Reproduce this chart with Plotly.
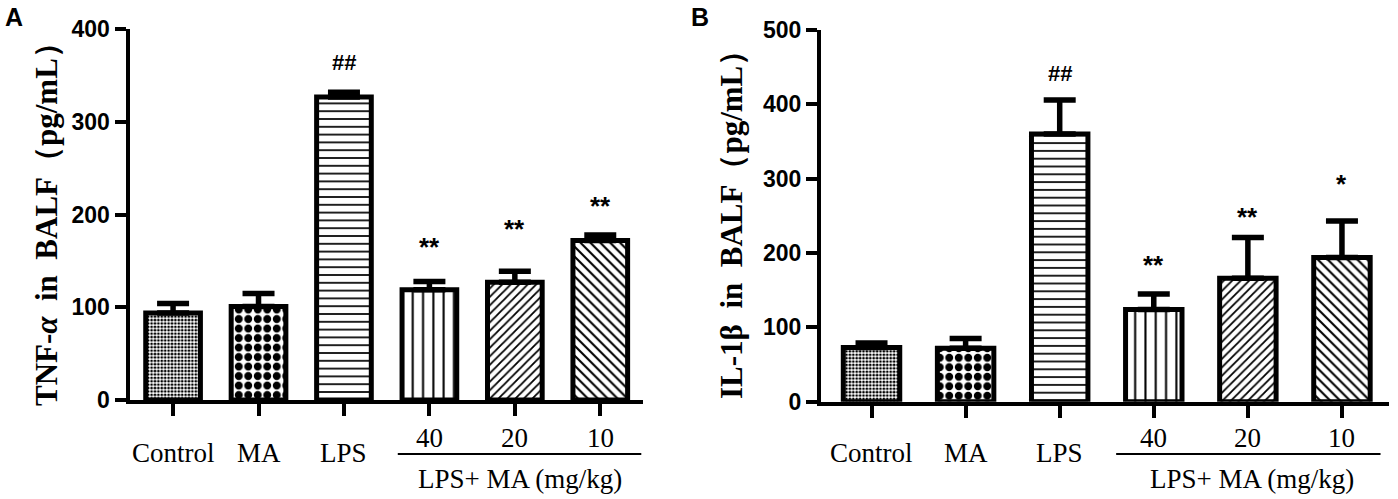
import plotly.graph_objects as go

# ---------------- data ----------------
categories = ["Control", "MA", "LPS", "40", "20", "10"]
group_label = "LPS+ MA (mg/kg)"

tnf_mean = [94, 101, 327, 119, 127, 172]
tnf_sem = [10, 14, 5, 9, 12, 6]
tnf_sig = ["", "", "##", "**", "**", "**"]
tnf_sig_y = [None, None, 364, 165, 185, 209]

il1b_mean = [73, 72, 360, 124, 166, 194]
il1b_sem = [6, 13, 46, 21, 55, 49]
il1b_sig = ["", "", "##", "**", "**", "*"]
il1b_sig_y = [None, None, 442, 184, 249, 293]

tnf_ticks = [0, 100, 200, 300, 400]
il1b_ticks = [0, 100, 200, 300, 400, 500]

W, H = 1398, 499
patterns = [
    dict(shape=".", size=3.4, solidity=0.5),
    dict(shape=".", size=9.5, solidity=0.55),
    dict(shape="-", size=7.8, solidity=0.22),
    dict(shape="|", size=10.3, solidity=0.2),
    dict(shape="/", size=6, solidity=0.3),
    dict(shape="\\", size=7, solidity=0.3),
]

fig = go.Figure()

def add_panel(fig, means, sems, xa, ya, bw):
    xs = list(range(len(categories)))
    fig.add_trace(go.Bar(
        x=xs, y=means, width=bw, xaxis=xa, yaxis=ya,
        marker=dict(
            color="white",
            line=dict(color="black", width=5),
            pattern=dict(
                shape=[p["shape"] for p in patterns],
                size=[p["size"] for p in patterns],
                solidity=[p["solidity"] for p in patterns],
                fgcolor="black", bgcolor="white", fillmode="replace",
            ),
        ),
        error_y=dict(type="data", symmetric=False, array=sems,
                     arrayminus=[0] * len(sems), color="black",
                     thickness=5.5, width=16),
        showlegend=False, hoverinfo="skip",
    ))

add_panel(fig, tnf_mean, tnf_sem, "x", "y", 0.64)
add_panel(fig, il1b_mean, il1b_sem, "x2", "y2", 0.6)

axis_common = dict(showline=True, linecolor="black", linewidth=4,
                   ticks="outside", tickcolor="black", tickwidth=3.5,
                   showgrid=False, zeroline=False, automargin=False)
tick_font = dict(family="Liberation Sans", size=23, color="black", weight="bold")

fig.update_layout(
    width=W, height=H,
    margin=dict(l=0, r=0, t=0, b=0, autoexpand=False),
    paper_bgcolor="white", plot_bgcolor="white",
    xaxis=dict(domain=[129.5 / W, 643 / W], range=[-0.51, 5.5], anchor="y",
               tickvals=list(range(6)), showticklabels=False, ticklen=12,
               **axis_common),
    yaxis=dict(domain=[99 / H, 469.7 / H], range=[0, 400], anchor="x",
               tickvals=tnf_ticks, ticklen=11, tickfont=tick_font,
               **axis_common),
    xaxis2=dict(domain=[821 / W, 1389 / W], range=[-0.537, 5.5], anchor="y2",
                tickvals=list(range(6)), showticklabels=False, ticklen=12,
                **axis_common),
    yaxis2=dict(domain=[97.3 / H, 469 / H], range=[0, 500], anchor="x2",
                tickvals=il1b_ticks, ticklen=11, tickfont=tick_font,
                **axis_common),
)

serif = dict(family="Liberation Serif", size=27, color="black")
ann = []
shapes = []

def panel_text(xref, sig, sig_y, underline, grp_x):
    for i, c in enumerate(categories):
        is_dose = i >= 3
        ann.append(dict(x=i, xref=xref, y=(H - 438) / H if is_dose else (H - 453) / H,
                        yref="paper", text=c, showarrow=False, font=serif,
                        xanchor="center", yanchor="middle"))
        if sig[i]:
            if sig[i].startswith("#"):
                f = dict(family="Liberation Sans", size=22, color="black", weight="bold")
            else:
                f = dict(family="Liberation Sans", size=26, color="black", weight="bold")
            ann.append(dict(x=i, xref=xref, y=sig_y[i], yref=xref.replace("x", "y"),
                            text=sig[i], showarrow=False, font=f,
                            xanchor="center", yanchor="middle"))
    shapes.append(dict(type="line", xref=xref, yref="paper",
                       x0=underline[0], x1=underline[1],
                       y0=(H - 454) / H, y1=(H - 454) / H,
                       line=dict(color="black", width=2)))
    ann.append(dict(x=grp_x, xref=xref, y=(H - 479) / H, yref="paper",
                    text=group_label, showarrow=False, font=serif,
                    xanchor="center", yanchor="middle"))

panel_text("x", tnf_sig, tnf_sig_y, (2.63, 5.48), 4.06)
panel_text("x2", il1b_sig, il1b_sig_y, (2.6, 5.41), 4.04)

title_font = dict(family="Liberation Serif", size=31, color="black", weight="bold")
ann.append(dict(x=46 / W, y=(H - 217) / H, xref="paper", yref="paper",
                text="TNF-<i>α</i>  in  BALF（pg/mL）", textangle=-90, showarrow=False,
                font=title_font, xanchor="center", yanchor="middle"))
ann.append(dict(x=731 / W, y=(H - 217) / H, xref="paper", yref="paper",
                text="IL-1β  in  BALF（pg/mL）", textangle=-90, showarrow=False,
                font=title_font, xanchor="center", yanchor="middle"))

panel_font = dict(family="Liberation Sans", size=25, color="black", weight="bold")
ann.append(dict(x=14 / W, y=(H - 17) / H, xref="paper", yref="paper", text="A",
                showarrow=False, font=panel_font, xanchor="center", yanchor="middle"))
ann.append(dict(x=700 / W, y=(H - 17) / H, xref="paper", yref="paper", text="B",
                showarrow=False, font=panel_font, xanchor="center", yanchor="middle"))

fig.update_layout(annotations=ann, shapes=shapes)
fig.write_html(
    "out.html",
    config={"displayModeBar": False},
    post_script="document.body.style.margin='0px';document.body.style.overflow='hidden';",
)
